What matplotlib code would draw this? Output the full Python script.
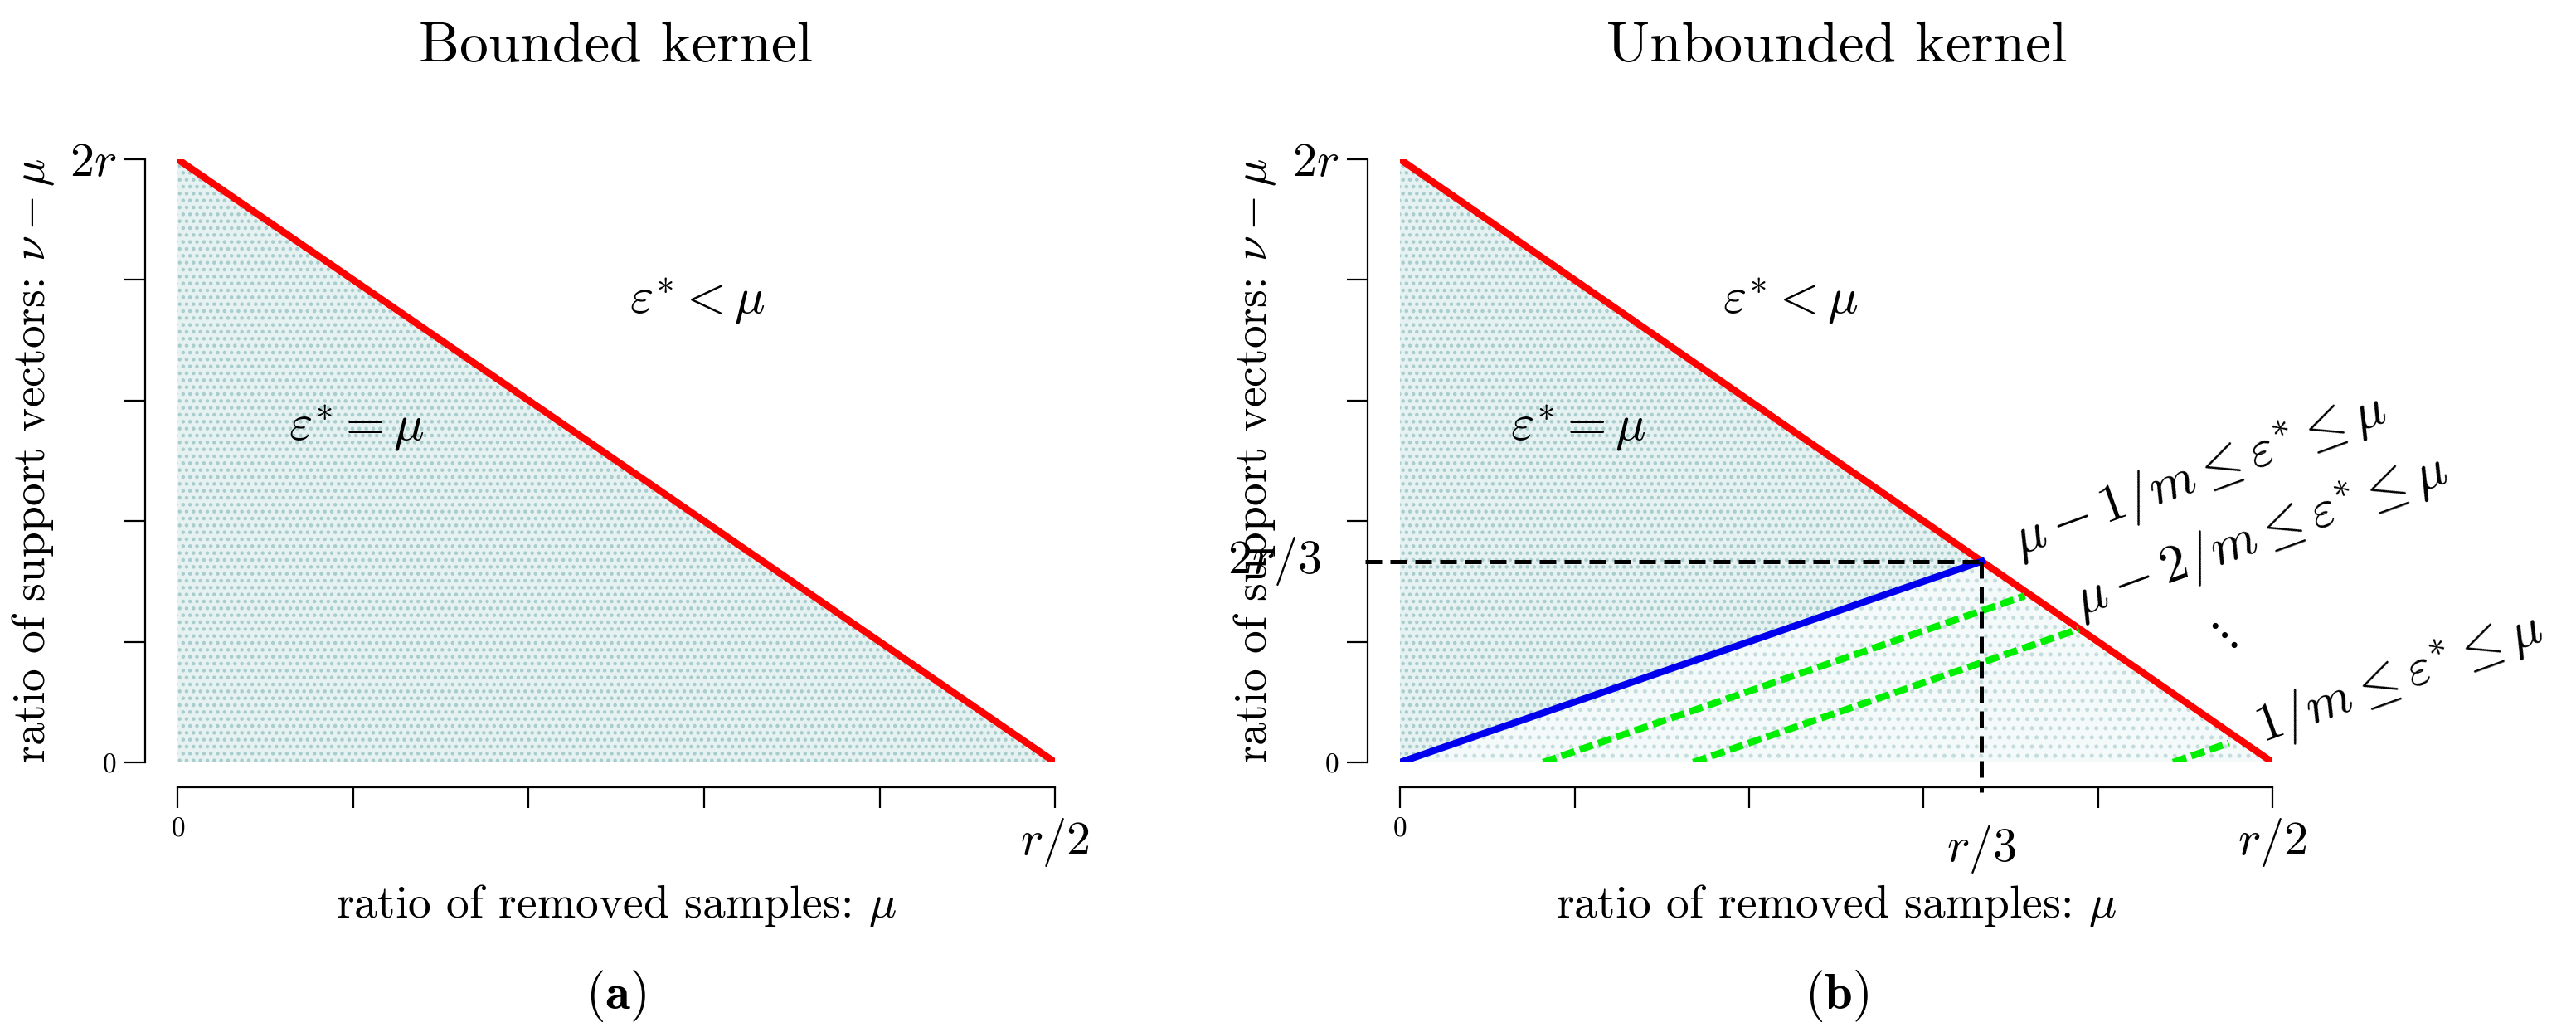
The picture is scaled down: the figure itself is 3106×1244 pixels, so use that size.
import matplotlib
matplotlib.use("Agg")
import matplotlib.pyplot as plt

plt.rcParams['font.family'] = 'serif'
plt.rcParams['font.serif'] = ['cmr10', 'DejaVu Serif']
plt.rcParams['mathtext.fontset'] = 'cm'
plt.rcParams['axes.unicode_minus'] = False

# data (r = 1)
red_x = [0.0, 0.5]; red_y = [2.0, 0.0]
blue_x = [0.0, 1/3]; blue_y = [0.0, 2/3]
green_x0 = [0.082, 0.168, 0.443]
green_x1 = [0.358, 0.389, 0.475]
green_y1 = [0.552, 0.442, 0.064]
ticks_x = [0, 0.1, 0.2, 0.3, 0.4, 0.5]
ticks_y = [0, 0.4, 0.8, 1.2, 1.6, 2.0]

fig = plt.figure(figsize=(15.53, 6.22), dpi=200)
axL = fig.add_axes([0.069, 0.2613, 0.3406, 0.5844])
axR = fig.add_axes([0.5435, 0.2613, 0.3387, 0.5844])

for ax in (axL, axR):
    ax.set_xlim(0, 0.5); ax.set_ylim(0, 2)
    for s in ('top', 'right'):
        ax.spines[s].set_visible(False)
    ax.spines['left'].set_position(('outward', 14))
    ax.spines['bottom'].set_position(('outward', 11))
    ax.spines['left'].set_bounds(0, 2)
    ax.spines['bottom'].set_bounds(0, 0.5)
    ax.set_xticks(ticks_x); ax.set_yticks(ticks_y)
    ax.tick_params(length=9, width=0.8)
    ax.fill(red_x + [0.0], red_y + [0.0], facecolor='#e6f2f2', edgecolor='#a8cccc',
            hatch='....', lw=0, zorder=1)
    ax.plot(red_x, red_y, color='#ff0000', lw=3, zorder=5, solid_capstyle='butt')
    ax.set_xlabel(r'ratio of removed samples: $\mu$', fontsize=20, labelpad=6)
    ax.set_ylabel(r'ratio of support vectors: $\nu-\mu$', fontsize=20, labelpad=6)

for ax in (axL, axR):
    ax.set_xticklabels(['$0$', '', '', '', '', '$r/2$'], fontsize=21)
    ax.set_yticklabels(['$0$', '', '', '', '', '$2r$'], fontsize=21)
    for lab in [ax.get_xticklabels()[0], ax.get_yticklabels()[0]]:
        lab.set_fontsize(12)
axR.text(1/3, -0.2, '$r/3$', ha='center', va='top', fontsize=21, clip_on=False)
axR.text(-0.045, 2/3, '$2r/3$', ha='right', va='center', fontsize=21, clip_on=False)

# lower sub-region lighter on right
axR.fill([0, 1/3, 0.5, 0], [0, 2/3, 0, 0], facecolor='#f4fafa', edgecolor='#c4dcdc',
         hatch='...', lw=0, zorder=2)
axR.plot(blue_x, blue_y, color='#0000ee', lw=3, zorder=6)
for a, b, c in zip(green_x0, green_x1, green_y1):
    axR.plot([a, b], [0, c], color='#00ee00', lw=3, ls=(0, (2, 0.8)), zorder=6)
axR.plot([-0.02, 1/3], [2/3, 2/3], color='black', lw=1.8, ls=(0, (4, 2)), zorder=7, clip_on=False)
axR.plot([1/3, 1/3], [2/3, -0.1], color='black', lw=1.8, ls=(0, (4, 2)), zorder=7, clip_on=False)

axL.text(0.296, 1.53, r'$\varepsilon^{*} < \mu$', fontsize=22, ha='center', va='center')
axL.text(0.102, 1.11, r'$\varepsilon^{*} = \mu$', fontsize=22, ha='center', va='center')
axR.text(0.224, 1.53, r'$\varepsilon^{*} < \mu$', fontsize=22, ha='center', va='center')
axR.text(0.102, 1.11, r'$\varepsilon^{*} = \mu$', fontsize=22, ha='center', va='center')
kw = dict(fontsize=23, rotation=20, rotation_mode='anchor', ha='left', va='bottom', clip_on=False)
axR.text(0.358, 0.64, r'$\mu-1/m \leq \varepsilon^{*} \leq \mu$', **kw)
axR.text(0.393, 0.44, r'$\mu-2/m \leq \varepsilon^{*} \leq \mu$', **kw)
axR.text(0.497, 0.02, r'$1/m \leq \varepsilon^{*} \leq \mu$', **kw)
axR.text(0.470, 0.42, r'$\ddots$', fontsize=20, ha='center', va='center', clip_on=False)

fig.text(0.239, 0.955, 'Bounded kernel', fontsize=25, ha='center', va='center')
fig.text(0.713, 0.955, 'Unbounded kernel', fontsize=25, ha='center', va='center')
fig.text(0.239, 0.035, r'$\mathbf{(a)}$', fontsize=22, ha='center', va='center')
fig.text(0.713, 0.035, r'$\mathbf{(b)}$', fontsize=22, ha='center', va='center')

fig.savefig('out.png', dpi=200)
